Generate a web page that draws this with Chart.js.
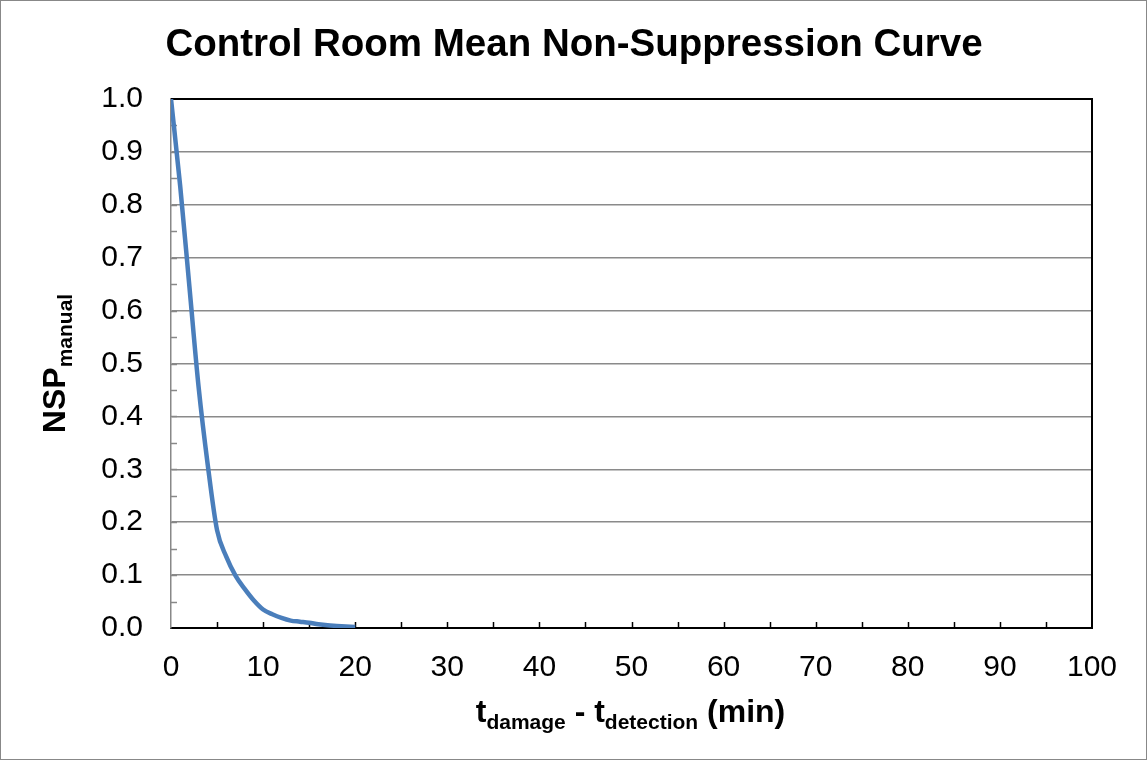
<!DOCTYPE html>
<html>
<head>
<meta charset="utf-8">
<title>Control Room Mean Non-Suppression Curve</title>
<script src="https://cdn.jsdelivr.net/npm/chart.js@4/dist/chart.umd.min.js"></script>
<style>
  html, body { margin: 0; padding: 0; background: #fff; }
  #wrap { width: 1148px; height: 761px; }
</style>
</head>
<body>
<div id="wrap"><canvas id="nspChart" width="1148" height="761"></canvas></div>
<script>
// data
var minutes = [0, 1, 2, 3, 4, 5, 6, 7, 8, 9, 10, 11, 12, 13, 14, 15, 16, 17, 18, 19, 20];
var nspManual = [1.000, 0.835, 0.645, 0.455, 0.307, 0.185, 0.135, 0.099, 0.074, 0.052,
                 0.035, 0.026, 0.019, 0.014, 0.012, 0.010, 0.007, 0.005, 0.004, 0.003, 0.002];
var xTicks = [0, 10, 20, 30, 40, 50, 60, 70, 80, 90, 100];
var yTicks = [0.0, 0.1, 0.2, 0.3, 0.4, 0.5, 0.6, 0.7, 0.8, 0.9, 1.0];

var FONT = "'Liberation Sans', Arial, sans-serif";

var points = minutes.map(function (m, i) { return { x: m, y: nspManual[i] }; });

// outer border, top/right plot frame and the little inward ticks
var framePlugin = {
  id: 'frame',
  beforeDraw: function (chart) {
    var ctx = chart.ctx;
    ctx.save();
    ctx.fillStyle = '#fff';
    ctx.fillRect(0, 0, chart.width, chart.height);
    ctx.strokeStyle = '#888';
    ctx.lineWidth = 1;
    ctx.strokeRect(0.5, 0.5, 1146, 759);
    ctx.restore();
  },
  beforeDatasetsDraw: function (chart) {
    var ctx = chart.ctx, a = chart.chartArea;
    var xs = chart.scales.x, ys = chart.scales.y;
    ctx.save();
    // y ticks every 0.05, pointing into the plot
    ctx.strokeStyle = '#888';
    ctx.lineWidth = 1.5;
    for (var v = 0.05; v < 1; v += 0.05) {
      var py = Math.round(ys.getPixelForValue(v)) + 0.5;
      ctx.beginPath();
      ctx.moveTo(a.left, py);
      ctx.lineTo(a.left + 6, py);
      ctx.stroke();
    }
    // x ticks every 5, pointing up
    ctx.strokeStyle = '#000';
    for (var t = 5; t < 100; t += 5) {
      var px = Math.round(xs.getPixelForValue(t)) + 0.5;
      ctx.beginPath();
      ctx.moveTo(px, a.bottom);
      ctx.lineTo(px, a.bottom - 6);
      ctx.stroke();
    }
    // black top and right edges of the plot
    ctx.lineWidth = 2;
    ctx.beginPath();
    ctx.moveTo(a.left, a.top);
    ctx.lineTo(a.right, a.top);
    ctx.lineTo(a.right, a.bottom);
    ctx.stroke();
    ctx.restore();
  }
};

// axis titles need subscripts, so draw them as text runs
function drawRuns(ctx, runs, cx, baseline) {
  var total = 0;
  runs.forEach(function (r) {
    ctx.font = 'bold ' + r.size + 'px ' + FONT;
    r.w = ctx.measureText(r.text).width;
    total += r.w;
  });
  var x = cx - total / 2;
  ctx.textAlign = 'left';
  ctx.textBaseline = 'alphabetic';
  runs.forEach(function (r) {
    ctx.font = 'bold ' + r.size + 'px ' + FONT;
    ctx.fillText(r.text, x, baseline + (r.shift || 0));
    x += r.w;
  });
}

var axisTitlePlugin = {
  id: 'axisTitles',
  afterDraw: function (chart) {
    var ctx = chart.ctx, a = chart.chartArea;
    ctx.save();
    ctx.fillStyle = '#000';
    drawRuns(ctx, [
      { text: 't', size: 32 },
      { text: 'damage', size: 21, shift: 7 },
      { text: ' - t', size: 32 },
      { text: 'detection', size: 21, shift: 7 },
      { text: ' (min)', size: 32 }
    ], (a.left + a.right) / 2 - 1, 722);
    ctx.translate(65, (a.top + a.bottom) / 2);
    ctx.rotate(-Math.PI / 2);
    drawRuns(ctx, [
      { text: 'NSP', size: 32 },
      { text: 'manual', size: 21, shift: 7 }
    ], 0, 0);
    ctx.restore();
  }
};

var ctxNsp = document.getElementById('nspChart').getContext('2d');
var nspChart = new Chart(ctxNsp, {
  type: 'line',
  data: {
    datasets: [{
      label: 'NSP manual',
      data: points,
      borderColor: '#4a7ebb',
      borderWidth: 4.5,
      pointRadius: 0,
      fill: false,
      cubicInterpolationMode: 'monotone'
    }]
  },
  options: {
    responsive: false,
    animation: false,
    events: [],
    layout: { padding: { left: 56, right: 56, top: 0, bottom: 0 } },
    plugins: {
      legend: { display: false },
      tooltip: { enabled: false },
      title: {
        display: true,
        text: 'Control Room Mean Non-Suppression Curve',
        color: '#000',
        font: { family: FONT, size: 38.5, weight: 'bold', lineHeight: 1.2 },
        padding: { top: 22, bottom: 30.8 }
      }
    },
    scales: {
      x: {
        type: 'linear',
        min: 0,
        max: 100,
        afterFit: function (s) { s.height = 133; },
        afterBuildTicks: function (s) { s.ticks = xTicks.map(function (v) { return { value: v }; }); },
        grid: { display: false, drawTicks: false },
        border: { display: true, color: '#000', width: 2 },
        ticks: { color: '#000', padding: 22, maxRotation: 0, font: { family: FONT, size: 30 } }
      },
      y: {
        type: 'linear',
        min: 0,
        max: 1,
        afterFit: function (s) { s.width = 115; },
        afterBuildTicks: function (s) { s.ticks = yTicks.map(function (v) { return { value: v }; }); },
        grid: { color: '#8a8a8a', lineWidth: 1.5, drawTicks: false },
        border: { display: true, color: '#888', width: 1.5 },
        ticks: {
          color: '#000',
          padding: 28,
          font: { family: FONT, size: 30 },
          callback: function (v) { return Number(v).toFixed(1); }
        }
      }
    }
  },
  plugins: [framePlugin, axisTitlePlugin]
});
</script>
</body>
</html>
